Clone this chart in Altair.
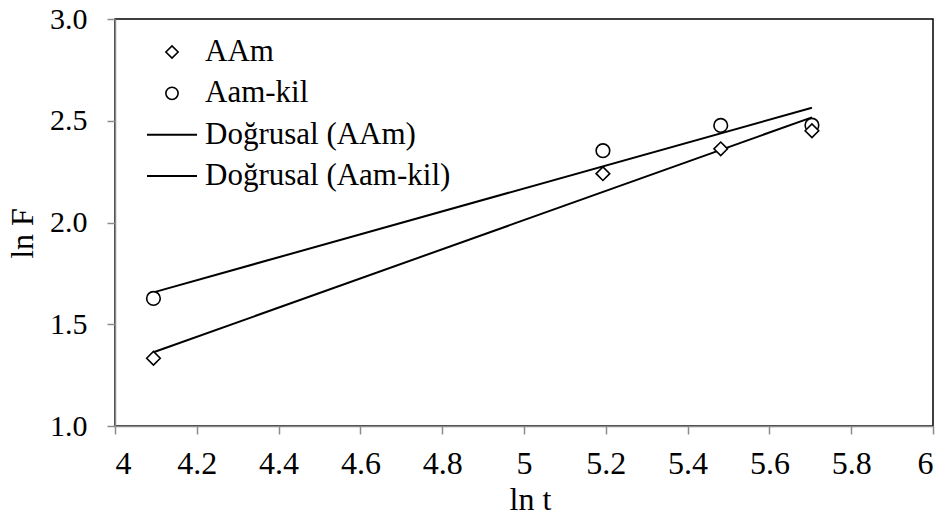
import altair as alt
import pandas as pd

# ---- data ----
ln_t = [4.094, 5.193, 5.481, 5.704]
aam = [1.333, 2.240, 2.362, 2.451]
aam_kil = [1.627, 2.353, 2.477, 2.478]
series_names = ["AAm", "Aam-kil"]
legend_labels = ["AAm", "Aam-kil", "Doğrusal (AAm)", "Doğrusal (Aam-kil)"]
legend_kinds = ["marker", "marker", "line", "line"]
legend_rows = [0, 1, 2, 3]
marker_shapes = ["diamond", "circle"]
x_ticks = [4, 4.2, 4.4, 4.6, 4.8, 5, 5.2, 5.4, 5.6, 5.8, 6]
y_ticks = [1.0, 1.5, 2.0, 2.5, 3.0]

FONT = "Liberation Serif"

df = pd.DataFrame({
    "x": ln_t + ln_t,
    "y": aam_kil + aam,
    "series": ["Aam-kil"] * len(ln_t) + ["AAm"] * len(ln_t),
})
leg = pd.DataFrame({"label": legend_labels, "kind": legend_kinds, "row": legend_rows})

shape_scale = alt.Scale(domain=series_names, range=marker_shapes)

x_enc = alt.X("x:Q", scale=alt.Scale(domain=[4, 6], nice=False, zero=False),
              axis=alt.Axis(values=x_ticks, format="~g", title="ln t",
                            labelFont=FONT, titleFont=FONT,
                            labelFontSize=32, labelPadding=14,
                            titleX=415, titleY=83, titleBaseline="alphabetic",
                            titleFontSize=32, titleFontWeight="normal"))
y_enc = alt.Y("y:Q", scale=alt.Scale(domain=[1, 3], nice=False, zero=False),
              axis=alt.Axis(values=y_ticks, format=".1f", title="ln F",
                            labelFont=FONT, titleFont=FONT,
                            labelFontSize=30, labelPadding=20,
                            titleX=-93, titleY=214, titleBaseline="middle",
                            titleFontSize=32, titleFontWeight="normal"))

lines = alt.Chart(df).transform_regression(
    "x", "y", groupby=["series"]
).mark_line(color="black", strokeWidth=2).encode(
    x=x_enc, y=y_enc, detail="series:N"
)

points = alt.Chart(df).mark_point(
    color="black", strokeWidth=1.6, size=185, opacity=1
).encode(
    x=x_enc, y=y_enc,
    fill=alt.value("white"),
    shape=alt.Shape("series:N", scale=shape_scale, legend=None),
)

main = alt.layer(lines, points)

# ---- hand-built legend (rows placed by a row scale) ----
row_y = alt.Y("row:Q", scale=alt.Scale(domain=[0, 3], range=[33, 157]), axis=None)

leg_markers = alt.Chart(leg).transform_filter(
    alt.datum.kind == "marker"
).mark_point(color="black", strokeWidth=1.6, size=150, opacity=1).encode(
    x=alt.value(57), y=row_y,
    fill=alt.value("white"),
    shape=alt.Shape("label:N", scale=shape_scale, legend=None),
)
leg_lines = alt.Chart(leg).transform_filter(
    alt.datum.kind == "line"
).mark_rule(color="black", strokeWidth=2).encode(
    x=alt.value(32), x2=alt.value(82), y=row_y,
)
leg_text = alt.Chart(leg).mark_text(
    font=FONT, fontSize=31, align="left", baseline="middle", color="black"
).encode(
    x=alt.value(90), y=row_y, text="label:N",
)
legend = alt.layer(leg_markers, leg_lines, leg_text)

chart = alt.layer(main, legend).resolve_scale(y="independent").properties(
    width=818, height=407,
    autosize=alt.AutoSizeParams(type="none"),
    padding={"left": 115, "top": 19, "right": 13, "bottom": 90},
    background="white",
).configure(
    font=FONT
).configure_view(
    stroke="black", strokeWidth=1.5
).configure_axis(
    grid=False, domainColor="#8c8c8c", domainWidth=1.5, tickColor="#8c8c8c",
    tickWidth=1.5, tickSize=8, labelFont=FONT, titleFont=FONT,
    labelColor="black", titleColor="black",
)

chart.save("out.html", embed_options={"renderer": "svg", "actions": False})
